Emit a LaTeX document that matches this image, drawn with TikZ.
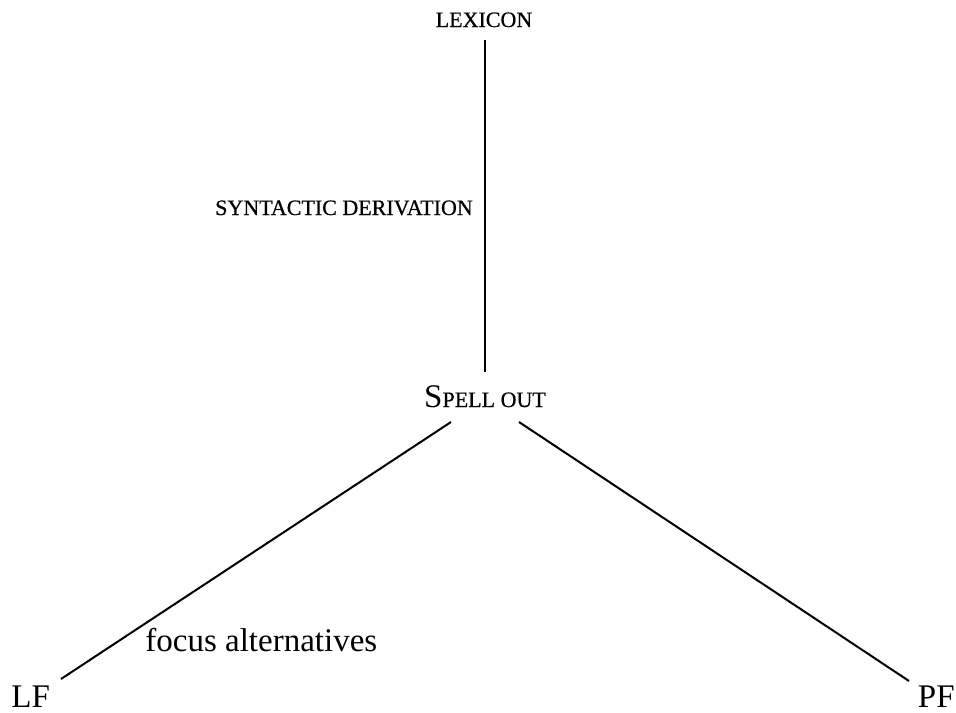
\documentclass[tikz,border=0pt]{standalone}
\usepackage{fontspec}
\setmainfont{Liberation Serif}
\newfontfamily\scfont[FakeBold=0.6]{Liberation Serif}
\newcommand\fakesc[1]{{\scfont\fontsize{11}{13}\selectfont #1}}
\begin{document}
\begin{tikzpicture}[x=0.5pt,y=-0.5pt,
  every node/.style={inner sep=0pt, font=\fontsize{16.5}{19}\selectfont},
  conn/.style={line width=1pt}]
\useasboundingbox (0,0) rectangle (956,712);
\node[anchor=base] (lex) at (484,27) {\fakesc{LEXICON}};
\node[anchor=base] (syn) at (344,215) {\fakesc{SYNTACTIC DERIVATION}};
\node[anchor=base] (spell) at (485,407) {S\fakesc{PELL OUT}};
\node[anchor=base west] (lf) at (11,707) {LF};
\node[anchor=base east] (pf) at (955,707) {PF};
\node[anchor=base west] (focus) at (145,651) {focus alternatives};
\coordinate (vtop) at (485,40);
\coordinate (vbot) at (485,372);
\coordinate (ltop) at (451,422);
\coordinate (lbot) at (61,679);
\coordinate (rtop) at (519,422);
\coordinate (rbot) at (909,681);
\draw[conn] (vtop) -- (vbot);
\draw[conn] (ltop) -- (lbot);
\draw[conn] (rtop) -- (rbot);
\end{tikzpicture}
\end{document}
